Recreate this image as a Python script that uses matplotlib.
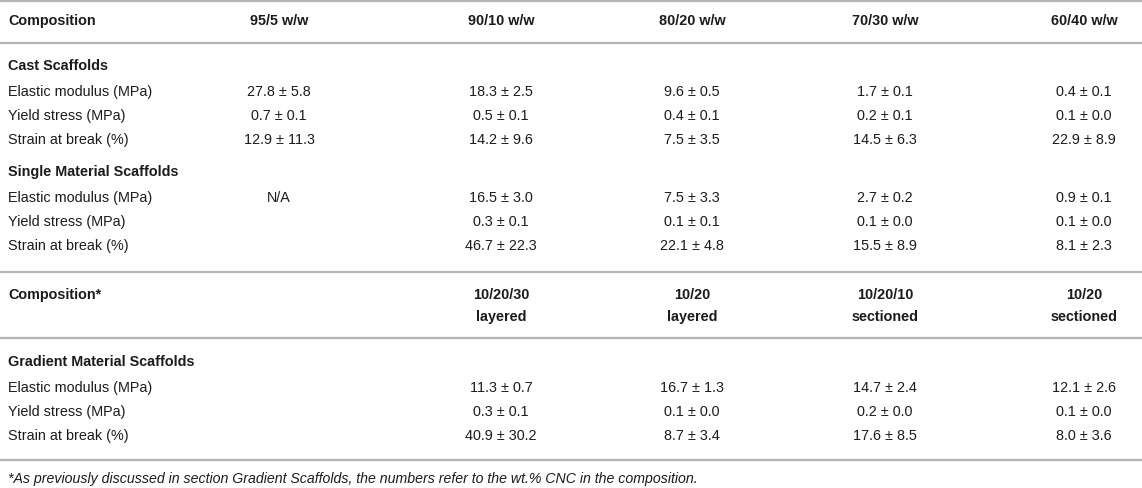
import matplotlib
matplotlib.use("Agg")
import matplotlib.pyplot as plt

plt.rcParams['font.family'] = ['Liberation Sans', 'DejaVu Sans']

W, H = 1142, 489

compositions = ["95/5 w/w", "90/10 w/w", "80/20 w/w", "70/30 w/w", "60/40 w/w"]
gradient_top = ["", "10/20/30", "10/20", "10/20/10", "10/20"]
gradient_bottom = ["", "layered", "layered", "sectioned", "sectioned"]
properties = ["Elastic modulus (MPa)", "Yield stress (MPa)", "Strain at break (%)"]

cast_values = [
    ["27.8 ± 5.8", "18.3 ± 2.5", "9.6 ± 0.5", "1.7 ± 0.1", "0.4 ± 0.1"],
    ["0.7 ± 0.1", "0.5 ± 0.1", "0.4 ± 0.1", "0.2 ± 0.1", "0.1 ± 0.0"],
    ["12.9 ± 11.3", "14.2 ± 9.6", "7.5 ± 3.5", "14.5 ± 6.3", "22.9 ± 8.9"],
]
single_values = [
    ["N/A", "16.5 ± 3.0", "7.5 ± 3.3", "2.7 ± 0.2", "0.9 ± 0.1"],
    ["", "0.3 ± 0.1", "0.1 ± 0.1", "0.1 ± 0.0", "0.1 ± 0.0"],
    ["", "46.7 ± 22.3", "22.1 ± 4.8", "15.5 ± 8.9", "8.1 ± 2.3"],
]
gradient_values = [
    ["", "11.3 ± 0.7", "16.7 ± 1.3", "14.7 ± 2.4", "12.1 ± 2.6"],
    ["", "0.3 ± 0.1", "0.1 ± 0.0", "0.2 ± 0.0", "0.1 ± 0.0"],
    ["", "40.9 ± 30.2", "8.7 ± 3.4", "17.6 ± 8.5", "8.0 ± 3.6"],
]
footnote = "*As previously discussed in section Gradient Scaffolds, the numbers refer to the wt.% CNC in the composition."

fig = plt.figure(figsize=(W / 100, H / 100), dpi=100)
ax = fig.add_axes([0, 0, 1, 1])
ax.set_xlim(0, W)
ax.set_ylim(H, 0)
ax.axis('off')

col_x = [279, 501, 692, 885, 1084]
left = 8
fs = 10.4
txt_col = '#1c1c1c'
line_col = '#b4b4b4'

def hline(y):
    ax.plot([0, W], [y, y], color=line_col, lw=1.6, solid_capstyle='butt')

def row(y, label, cells, bold=False):
    w = 'bold' if bold else 'normal'
    ax.text(left, y, label, fontsize=fs, fontweight=w, va='center', ha='left', color=txt_col)
    for x, c in zip(col_x, cells):
        ax.text(x, y, c, fontsize=fs, fontweight=w, va='center', ha='center', color=txt_col)

def section(y, title):
    ax.text(left, y, title, fontsize=fs, fontweight='bold', va='center', color=txt_col)

hline(2)
row(21, "Composition", compositions, bold=True)
hline(44)

section(66, "Cast Scaffolds")
for i, p in enumerate(properties):
    row(92 + 24 * i, p, cast_values[i])

section(172, "Single Material Scaffolds")
for i, p in enumerate(properties):
    row(198 + 24 * i, p, single_values[i])

hline(273)
row(295, "Composition*", gradient_top, bold=True)
row(317, "", gradient_bottom, bold=True)
hline(339)

section(362, "Gradient Material Scaffolds")
for i, p in enumerate(properties):
    row(388 + 24 * i, p, gradient_values[i])

hline(461)
ax.text(left, 479, footnote, fontsize=10.2, style='italic', va='center', ha='left', color=txt_col)

fig.savefig('out.png', dpi=100)
